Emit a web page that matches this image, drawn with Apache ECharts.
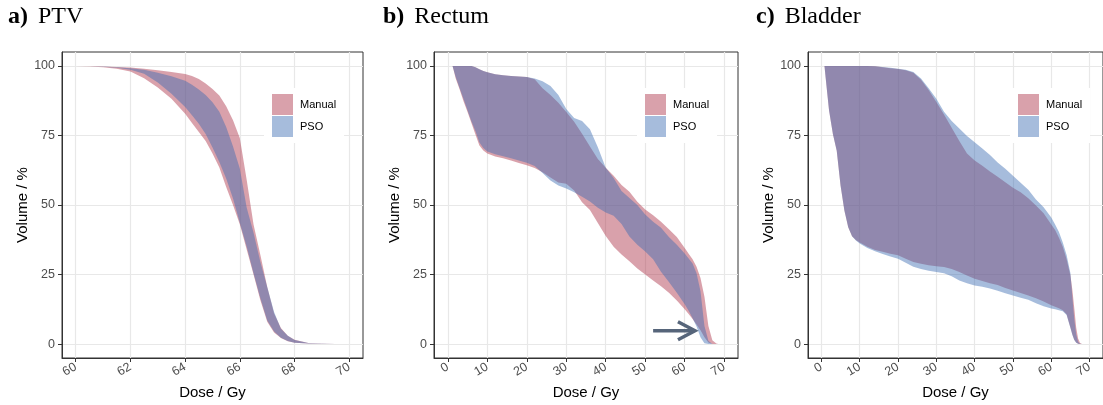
<!DOCTYPE html>
<html><head><meta charset="utf-8">
<script src="https://cdn.jsdelivr.net/npm/echarts@6/dist/echarts.min.js"></script>
<style>html,body{margin:0;padding:0;background:#fff}#c{width:1103px;height:405px}</style>
</head><body><div id="c"></div>
<script>
// ---------- DATA ----------
const seriesNames = ['Manual', 'PSO'];
const panelTitles = ['PTV', 'Rectum', 'Bladder'];
const panelLetters = ['a)', 'b)', 'c)'];
const yTicks = [0, 25, 50, 75, 100];
const ptvXTicks = [60, 62, 64, 66, 68, 70];
const organXTicks = [0, 10, 20, 30, 40, 50, 60, 70];

// a) PTV
const ptvDose = [60, 60.5, 61, 61.5, 62, 62.5, 63, 63.5, 64, 64.25, 64.5, 64.75, 65, 65.25, 65.5, 65.75, 66, 66.25, 66.5, 66.75, 67, 67.25, 67.5, 67.75, 68, 68.5, 69, 69.5, 70];
const ptvManualUpper = [100, 99.9, 99.8, 99.6, 99.4, 99.0, 98.4, 97.8, 97.1, 96.4, 95.3, 93.7, 91.7, 89.4, 85.5, 80.5, 74, 59, 43, 32, 20.5, 11, 5.8, 3, 1.6, 0.4, 0.1, 0, 0];
const ptvManualLower = [100, 99.8, 99.5, 99.0, 98.0, 95.6, 92.2, 88.2, 82.8, 79.5, 76.2, 73.0, 68.5, 63.5, 56.5, 50, 43, 34, 25, 15.8, 8.0, 4.2, 2.2, 1.0, 0.5, 0.2, 0.05, 0, 0];
const ptvPsoUpper = [100, 99.9, 99.8, 99.5, 99.2, 98.6, 97.5, 96.3, 94.7, 93.2, 91.5, 89.5, 86.9, 83.5, 78, 71, 63, 49, 40, 29.5, 20.5, 11.5, 5.5, 3, 1.5, 0.4, 0.1, 0, 0];
const ptvPsoLower = [100, 99.9, 99.7, 99.3, 98.6, 97.2, 94.0, 90.0, 85.2, 82.3, 79.2, 75.5, 70.7, 65.5, 59.5, 52.3, 43.5, 35, 25.5, 16.5, 8.5, 4.5, 2.3, 1.1, 0.5, 0.2, 0.05, 0, 0];

// b) Rectum
const recDose = [1.2, 2, 3, 4, 5, 6, 7, 8, 9, 10, 12, 14, 16, 18, 20, 22, 24, 26, 28, 30, 32, 34, 36, 38, 40, 42, 44, 46, 48, 50, 52, 54, 56, 58, 60, 61, 62, 63, 64, 65, 66, 67, 68, 68.5];
const recManualUpper = [100, 100, 100, 100, 100, 100, 99.5, 98.8, 98.2, 97.7, 97, 96.6, 96.4, 96.2, 96, 95.2, 92, 89.5, 86.8, 83.4, 79.9, 75.6, 71, 66.5, 63.4, 60.5, 57.2, 54.8, 51.2, 48.4, 46.3, 44, 41.3, 38.5, 34.5, 32.5, 30.5, 27.8, 23.8, 17, 6.5, 1.4, 0.2, 0];
const recManualLower = [100, 95.5, 91.5, 87.2, 83.4, 79.4, 75.3, 71.4, 69.6, 68.5, 67.4, 66.8, 66.0, 65.1, 64.3, 63.3, 61.8, 59.9, 58.1, 57.6, 55.2, 51, 48.2, 43.5, 38.9, 35, 32.2, 29.8, 27.2, 25, 22.9, 20.8, 18.5, 15.7, 12.5, 10.8, 9, 7, 5, 2.5, 0.6, 0, 0, 0];
const recPsoUpper = [100, 100, 100, 100, 100, 100, 99.5, 98.8, 98.2, 97.7, 97, 96.6, 96.4, 96.2, 96, 95.5, 94.5, 92.8, 89.5, 84.5, 81.3, 80.2, 77.2, 70.8, 63.4, 59.7, 55, 52.5, 50, 46.6, 44, 41.8, 38.5, 35.7, 32.6, 30.8, 29, 25.5, 19, 6.5, 1.2, 0, 0, 0];
const recPsoLower = [100, 96, 92, 88, 84, 80, 76.5, 72.5, 70.5, 69.2, 68.2, 67.5, 66.8, 66, 65.2, 64, 61.5, 58.8, 57, 55.9, 54.6, 53, 51.3, 49, 47.3, 46.1, 43.2, 38.7, 35.7, 33.3, 30.5, 26, 22.3, 18.5, 14.3, 12, 9.3, 6.3, 2.5, 0.3, 0, 0, 0, 0];

// c) Bladder
const blaDose = [0.8, 1.5, 2, 3, 4, 5, 6, 7, 8, 9, 10, 12, 14, 16, 18, 20, 22, 24, 26, 28, 30, 32, 34, 36, 38, 40, 42, 44, 46, 48, 50, 52, 54, 56, 58, 60, 61, 62, 63, 64, 65, 65.5, 66, 66.5, 67, 67.5, 68];
const blaManualUpper = [100, 100, 100, 100, 100, 100, 100, 100, 100, 100, 100, 100, 99.9, 99.5, 99.2, 98.9, 98.4, 97.5, 95, 91.3, 87, 82.5, 77.8, 73, 68.5, 66, 64.1, 62, 60.2, 58.2, 56.2, 54.6, 52.4, 49.8, 47, 43, 41, 38.2, 35, 30.5, 24.7, 19.5, 13, 6, 2, 0.4, 0];
const blaManualLower = [100, 90.5, 84, 75.5, 69.5, 57, 48, 42, 38.8, 37.4, 36.5, 35, 33.8, 33.2, 32.5, 31.9, 30.7, 29.5, 28.9, 28.3, 28, 27.7, 27, 25.9, 24.7, 23.5, 22.7, 21.9, 21.2, 20.2, 19.3, 18.4, 17.5, 16.5, 15.3, 14, 13.4, 12.9, 12.2, 10.7, 6, 3.5, 1.6, 0.6, 0.1, 0, 0];
const blaPsoUpper = [100, 100, 100, 100, 100, 100, 100, 100, 100, 100, 100, 100, 99.9, 99.6, 99.3, 99, 98.6, 97.8, 95.5, 92, 88.2, 83.5, 80.2, 77.5, 74.8, 72.6, 70.3, 68, 65.3, 63, 60.5, 58, 55.5, 52, 49.2, 45.5, 43, 40.3, 36.5, 32, 25.5, 17, 9, 3.5, 0.8, 0.1, 0];
const blaPsoLower = [100, 90.5, 84, 75.5, 69.5, 57, 48, 42, 38.8, 37.2, 36.2, 34.5, 33.4, 32.4, 31.5, 30.7, 29.2, 27.8, 27, 26.4, 25.9, 25.5, 24.4, 22.9, 21.9, 21.1, 20.6, 20, 19.2, 18.3, 17.5, 16.7, 15.9, 14.7, 13.6, 12.8, 12.5, 12.2, 11.8, 10.5, 5.8, 3.3, 1.5, 0.5, 0.1, 0, 0];

// arrow annotation in panel b: [x0, y0, x1, y1]
const arrowData = [[52, 4.8, 62.6, 4.8]];

// ---------- CHART ----------
const FONT = 'Liberation Sans';
const manualFill = 'rgba(171,46,68,0.45)';
const psoFill = 'rgba(57,106,177,0.45)';
const manualKey = '#d9a1ab';
const psoKey = '#a6bcdc';

const panels = [
  {dose: ptvDose, mu: ptvManualUpper, ml: ptvManualLower, pu: ptvPsoUpper, pl: ptvPsoLower, xTicks: ptvXTicks, xMin: 59.5, xMax: 70.5,
   grid: {left: 62, top: 52, width: 301, height: 306}, legend: {left: 264, top: 88}, title: {left: 8}},
  {dose: recDose, mu: recManualUpper, ml: recManualLower, pu: recPsoUpper, pl: recPsoLower, xTicks: organXTicks, xMin: -3.5, xMax: 73.5,
   grid: {left: 434, top: 52, width: 304, height: 306}, legend: {left: 637, top: 88}, title: {left: 383}},
  {dose: blaDose, mu: blaManualUpper, ml: blaManualLower, pu: blaPsoUpper, pl: blaPsoLower, xTicks: organXTicks, xMin: -3.5, xMax: 73.5,
   grid: {left: 808, top: 52, width: 302, height: 306}, legend: {left: 1010, top: 88}, title: {left: 756}}
];

function band(gi, name, dose, up, lo, fill, key) {
  const rows = dose.map((d, i) => [d, up[i], lo[i]]);
  return {
    type: 'custom', name: name, xAxisIndex: gi, yAxisIndex: gi,
    itemStyle: {color: key}, silent: true, clip: true,
    encode: {x: 0, y: [1, 2]},
    data: rows,
    renderItem: function (params, api) {
      if (params.dataIndex !== 0) return null;
      const pts = [];
      for (let i = 0; i < rows.length; i++) pts.push(api.coord([rows[i][0], rows[i][1]]));
      for (let i = rows.length - 1; i >= 0; i--) pts.push(api.coord([rows[i][0], rows[i][2]]));
      return {type: 'polygon', shape: {points: pts}, style: {fill: fill, stroke: null}};
    }
  };
}

const grids = [], xAxes = [], yAxes = [], series = [], legends = [], titles = [];
panels.forEach((p, gi) => {
  grids.push(Object.assign({show: true, borderColor: '#333333', borderWidth: 1, backgroundColor: 'transparent', containLabel: false}, p.grid));
  xAxes.push({
    type: 'value', gridIndex: gi, min: p.xMin, max: p.xMax,
    name: 'Dose / Gy', nameLocation: 'middle', nameGap: 26,
    nameTextStyle: {fontFamily: FONT, fontSize: 15, color: '#000'},
    axisLine: {show: true, onZero: false, lineStyle: {color: '#333333', width: 1}},
    axisTick: {show: true, length: 4, customValues: p.xTicks, lineStyle: {color: '#333333'}},
    axisLabel: {customValues: p.xTicks, rotate: 30, margin: 8, fontFamily: FONT, fontSize: 12.5, color: '#4d4d4d'},
    splitLine: {show: true, lineStyle: {color: '#e8e8e8', width: 1.2}}
  });
  yAxes.push({
    type: 'value', gridIndex: gi, min: -5, max: 105,
    name: 'Volume / %', nameLocation: 'middle', nameGap: 32,
    nameTextStyle: {fontFamily: FONT, fontSize: 15, color: '#000'},
    axisLine: {show: true, onZero: false, lineStyle: {color: '#333333', width: 1}},
    axisTick: {show: true, length: 4, customValues: yTicks, lineStyle: {color: '#333333'}},
    axisLabel: {customValues: yTicks, margin: 7, fontFamily: FONT, fontSize: 12.5, color: '#4d4d4d'},
    splitLine: {show: true, lineStyle: {color: '#e8e8e8', width: 1.2}}
  });
  series.push(band(gi, seriesNames[0], p.dose, p.mu, p.ml, manualFill, manualKey));
  series.push(band(gi, seriesNames[1], p.dose, p.pu, p.pl, psoFill, psoKey));
  legends.push({
    data: seriesNames, orient: 'vertical', left: p.legend.left, top: p.legend.top,
    icon: 'rect', itemWidth: 21, itemHeight: 21, itemGap: 1,
    backgroundColor: '#ffffff', padding: [6, 8, 6, 8], selectedMode: false,
    textStyle: {fontFamily: FONT, fontSize: 11, color: '#000', padding: [0, 0, 0, 2]}
  });
  titles.push({
    text: '{b|' + panelLetters[gi] + '}{r|' + panelTitles[gi] + '}',
    left: p.title.left, top: 3, padding: 0,
    textStyle: {fontWeight: 'normal', rich: {
      b: {fontFamily: 'Liberation Serif', fontWeight: 'bold', fontSize: 24, color: '#000', padding: [0, 10, 0, 0], lineHeight: 28},
      r: {fontFamily: 'Liberation Serif', fontWeight: 'normal', fontSize: 24, color: '#000', lineHeight: 28}
    }}
  });
});

series.push({
  type: 'custom', name: 'arrow', xAxisIndex: 1, yAxisIndex: 1, silent: true,
  data: arrowData,
  renderItem: function (params, api) {
    const a = api.coord([api.value(0), api.value(1)]);
    const b = api.coord([api.value(2), api.value(3)]);
    const col = '#56657a';
    return {type: 'group', children: [
      {type: 'line', shape: {x1: a[0], y1: a[1], x2: b[0] - 2, y2: b[1]}, style: {stroke: col, lineWidth: 3.5}},
      {type: 'polyline', shape: {points: [[b[0] - 17, b[1] - 9], [b[0], b[1]], [b[0] - 17, b[1] + 9]]}, style: {stroke: col, lineWidth: 3.5, fill: null, lineJoin: 'miter'}}
    ]};
  }
});

const chart = echarts.init(document.getElementById('c'), null, {renderer: 'canvas'});
chart.setOption({
  animation: false,
  backgroundColor: '#ffffff',
  textStyle: {fontFamily: FONT},
  title: titles, legend: legends, grid: grids, xAxis: xAxes, yAxis: yAxes, series: series
});
</script></body></html>
